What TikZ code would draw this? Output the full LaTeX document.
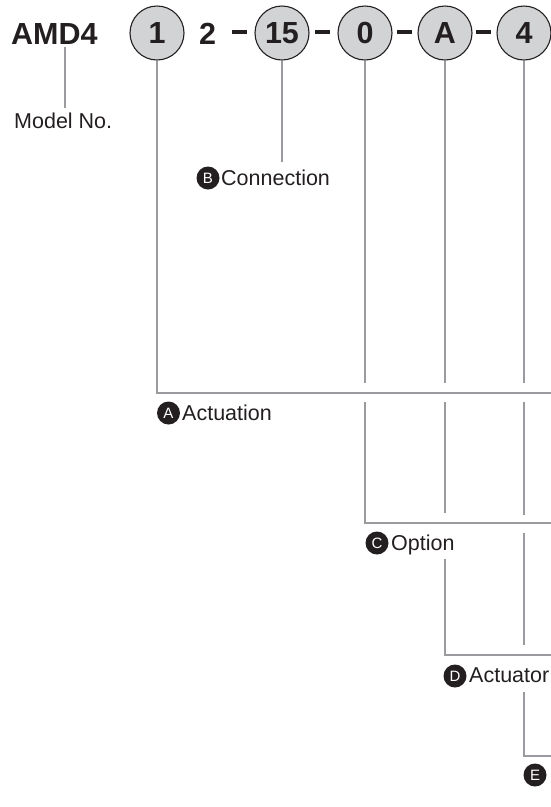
\documentclass[tikz,border=0pt]{standalone}
\usepackage{fontspec}
\setmainfont{Liberation Sans}
\definecolor{ink}{HTML}{231F20}
\definecolor{cfill}{HTML}{D1D3D4}
\definecolor{lgray}{HTML}{999B9E}
\begin{document}
\begin{tikzpicture}[x=1pt,y=-1pt,
 code/.style={circle,draw=ink,fill=cfill,line width=1.1pt,minimum size=54pt,inner sep=0pt,font=\fontsize{30.5}{30.5}\bfseries\selectfont,text=ink},
 bigtxt/.style={inner sep=0pt,font=\fontsize{30.5}{30.5}\bfseries\selectfont,text=ink},
 dashbar/.style={fill=ink,minimum width=15pt,minimum height=4.5pt,inner sep=0pt},
 conn/.style={draw=lgray,line width=2.3pt},
 tag/.style={circle,fill=ink,minimum size=23pt,inner sep=0pt,text=white,font=\fontsize{15}{15}\selectfont},
 lbl/.style={inner sep=0pt,anchor=base west,font=\fontsize{21.5}{21.5}\selectfont,text=ink}]
\useasboundingbox (0,0) rectangle (550,807);
% top row
\node[bigtxt,anchor=base west] (amd) at (11,44.5) {AMD4};
\node[code] (c1) at (157,33) {1};
\node[bigtxt,anchor=base] (two) at (207.5,44) {2};
\node[dashbar] (d1) at (239,32) {};
\node[code] (c15) at (282,33) {15};
\node[dashbar] (d2) at (322.5,32) {};
\node[code] (c0) at (365,33) {0};
\node[dashbar] (d3) at (404,32) {};
\node[code] (cA) at (445,33) {A};
\node[dashbar] (d4) at (483.5,32) {};
\node[code] (c4) at (524,33) {4};
% labels
\node[lbl] (model) at (14,128) {Model No.};
\node[tag] (tB) at (208,178) {B};
\node[lbl] (conn) at (221,185) {Connection};
\node[tag] (tA) at (168.5,413) {A};
\node[lbl] (act) at (182,420) {Actuation};
\node[tag] (tC) at (377,543) {C};
\node[lbl] (opt) at (391,550.5) {Option};
\node[tag] (tD) at (455,676) {D};
\node[lbl] (actr) at (469,682.5) {Actuator};
\node[tag] (tE) at (535,775) {E};
% coordinates
\coordinate (mtop) at (65,47);
\coordinate (mbot) at (65,108);
\coordinate (bend) at (282,162);
\coordinate (e1) at (552,392.7);
\coordinate (e2) at (552,523);
\coordinate (e3) at (552,655);
\coordinate (e4) at (552,756);
\coordinate (g1a) at (0,383);
\coordinate (g1b) at (0,402);
\coordinate (gAa) at (0,513);
\coordinate (gAb) at (0,559);
\coordinate (g4a) at (0,515);
\coordinate (g4b) at (0,533);
\coordinate (g4c) at (0,645);
\coordinate (g4d) at (0,692);
% connectors
\draw[conn] (mtop) -- (mbot);
\draw[conn] (c15.south) -- (bend);
\draw[conn] (c1.south) |- (e1);
\draw[conn] (c0.south) -- (c0.south |- g1a);
\draw[conn] (c0.south |- g1b) |- (e2);
\draw[conn] (cA.south) -- (cA.south |- g1a);
\draw[conn] (cA.south |- g1b) -- (cA.south |- gAa);
\draw[conn] (cA.south |- gAb) |- (e3);
\draw[conn] (c4.south) -- (c4.south |- g1a);
\draw[conn] (c4.south |- g1b) -- (c4.south |- g4a);
\draw[conn] (c4.south |- g4b) -- (c4.south |- g4c);
\draw[conn] (c4.south |- g4d) |- (e4);
\end{tikzpicture}
\end{document}
